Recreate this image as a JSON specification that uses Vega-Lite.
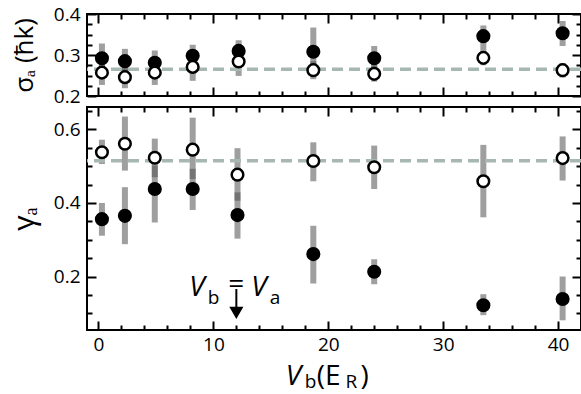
{
  "$schema": "https://vega.github.io/schema/vega-lite/v6.json",
  "padding": {"left": 8, "top": 4, "right": 2, "bottom": 0},
  "spacing": 11,
  "bounds": "flush",
  "datasets": {
    "sigma": [
      {"V": 0.3, "kind": "filled", "val": 0.292, "lo": 0.26, "hi": 0.328},
      {"V": 2.3, "kind": "filled", "val": 0.285, "lo": 0.255, "hi": 0.315},
      {"V": 4.9, "kind": "filled", "val": 0.281, "lo": 0.255, "hi": 0.311},
      {"V": 8.2, "kind": "filled", "val": 0.298, "lo": 0.27, "hi": 0.325},
      {"V": 12.2, "kind": "filled", "val": 0.31, "lo": 0.28, "hi": 0.336},
      {"V": 18.7, "kind": "filled", "val": 0.308, "lo": 0.27, "hi": 0.367},
      {"V": 24.0, "kind": "filled", "val": 0.292, "lo": 0.265, "hi": 0.322},
      {"V": 33.5, "kind": "filled", "val": 0.346, "lo": 0.31, "hi": 0.372},
      {"V": 40.4, "kind": "filled", "val": 0.353, "lo": 0.322, "hi": 0.383},
      {"V": 0.3, "kind": "open", "val": 0.257, "lo": 0.227, "hi": 0.285},
      {"V": 2.3, "kind": "open", "val": 0.246, "lo": 0.219, "hi": 0.27},
      {"V": 4.9, "kind": "open", "val": 0.257, "lo": 0.227, "hi": 0.285},
      {"V": 8.2, "kind": "open", "val": 0.271, "lo": 0.237, "hi": 0.3},
      {"V": 12.2, "kind": "open", "val": 0.284, "lo": 0.249, "hi": 0.31},
      {"V": 18.7, "kind": "open", "val": 0.263, "lo": 0.241, "hi": 0.285},
      {"V": 24.0, "kind": "open", "val": 0.254, "lo": 0.235, "hi": 0.275},
      {"V": 33.5, "kind": "open", "val": 0.293, "lo": 0.275, "hi": 0.31},
      {"V": 40.4, "kind": "open", "val": 0.263, "lo": 0.245, "hi": 0.28}
    ],
    "gamma": [
      {"V": 0.3, "kind": "filled", "val": 0.356, "lo": 0.311, "hi": 0.4},
      {"V": 2.3, "kind": "filled", "val": 0.365, "lo": 0.288, "hi": 0.443},
      {"V": 4.9, "kind": "filled", "val": 0.438, "lo": 0.347, "hi": 0.502},
      {"V": 8.2, "kind": "filled", "val": 0.438, "lo": 0.381, "hi": 0.493},
      {"V": 12.1, "kind": "filled", "val": 0.367, "lo": 0.303, "hi": 0.429},
      {"V": 18.7, "kind": "filled", "val": 0.261, "lo": 0.181, "hi": 0.338},
      {"V": 24.0, "kind": "filled", "val": 0.213, "lo": 0.179, "hi": 0.247},
      {"V": 33.5, "kind": "filled", "val": 0.122, "lo": 0.095, "hi": 0.152},
      {"V": 40.4, "kind": "filled", "val": 0.139, "lo": 0.081, "hi": 0.2},
      {"V": 0.3, "kind": "open", "val": 0.538, "lo": 0.506, "hi": 0.572},
      {"V": 2.3, "kind": "open", "val": 0.561, "lo": 0.488, "hi": 0.635},
      {"V": 4.9, "kind": "open", "val": 0.523, "lo": 0.47, "hi": 0.575},
      {"V": 8.2, "kind": "open", "val": 0.545, "lo": 0.465, "hi": 0.632},
      {"V": 12.1, "kind": "open", "val": 0.477, "lo": 0.406, "hi": 0.549},
      {"V": 18.7, "kind": "open", "val": 0.514, "lo": 0.459, "hi": 0.565},
      {"V": 24.0, "kind": "open", "val": 0.497, "lo": 0.438, "hi": 0.556},
      {"V": 33.5, "kind": "open", "val": 0.459, "lo": 0.361, "hi": 0.558},
      {"V": 40.4, "kind": "open", "val": 0.522, "lo": 0.461, "hi": 0.581}
    ],
    "ann": [
      {"part": "main", "t": "V", "V": 7.9, "y": 0.147},
      {"part": "main", "t": "V", "V": 13.3, "y": 0.147},
      {"part": "sub", "t": "b", "V": 9.5, "y": 0.125},
      {"part": "sub", "t": "a", "V": 14.9, "y": 0.125},
      {"part": "eq", "t": "=", "V": 12.0, "y": 0.176},
      {"part": "tmain", "t": "V", "V": 16.3, "y": -0.095},
      {"part": "tsub", "t": "b", "V": 17.95, "y": -0.104},
      {"part": "tnorm", "t": "(E", "V": 19.0, "y": -0.095},
      {"part": "tsub", "t": "R", "V": 21.5, "y": -0.104},
      {"part": "tnorm", "t": ")", "V": 22.8, "y": -0.095}
    ],
    "arrow": [
      {"V": 12.0, "top": 0.166, "bottom": 0.112, "tip": 0.101}
    ]
  },
  "vconcat": [
    {
      "width": 494,
      "height": 82,
      "resolve": {"axis": {"x": "independent", "y": "independent"}},
      "layer": [
        {
          "data": {"name": "sigma"},
          "mark": {"type": "rule", "strokeWidth": 6, "color": "#505050", "opacity": 0.55},
          "encoding": {
            "x": {"field": "V", "type": "quantitative", "scale": {"domain": [-1, 42], "nice": false, "zero": false},
              "axis": {"orient": "bottom", "labels": false, "title": null, "values": [0, 10, 20, 30, 40], "tickSize": -9}},
            "y": {"field": "lo", "type": "quantitative", "scale": {"domain": [0.2, 0.4], "nice": false, "zero": false},
              "axis": {"orient": "left", "title": "σₐ (ħk)", "titleFontSize": 26, "titlePadding": 16,
                "values": [0.2, 0.3, 0.4], "format": ".1f", "labelPadding": 16, "tickSize": -9}},
            "y2": {"field": "hi"}
          }
        },
        {
          "data": {"values": [{}]},
          "mark": {"type": "rule", "color": "#a7b7b1", "strokeWidth": 3.5, "strokeDash": [11, 6]},
          "encoding": {"y": {"datum": 0.265, "type": "quantitative", "scale": {"domain": [0.2, 0.4], "nice": false, "zero": false}, "axis": null}}
        },
        {
          "data": {"name": "sigma"},
          "mark": {"type": "point", "shape": "circle", "filled": true, "size": 135, "stroke": "black", "strokeWidth": 2.5, "opacity": 1},
          "encoding": {
            "x": {"field": "V", "type": "quantitative", "scale": {"domain": [-1, 42], "nice": false, "zero": false}, "axis": null},
            "y": {"field": "val", "type": "quantitative", "scale": {"domain": [0.2, 0.4], "nice": false, "zero": false}, "axis": null},
            "fill": {"field": "kind", "type": "nominal", "scale": {"domain": ["filled", "open"], "range": ["black", "white"]}, "legend": null}
          }
        },
        {
          "data": {"name": "sigma"},
          "mark": {"type": "point", "opacity": 0},
          "encoding": {
            "x": {"field": "V", "type": "quantitative", "scale": {"domain": [-1, 42], "nice": false, "zero": false},
              "axis": {"orient": "bottom", "labels": false, "title": null, "values": [2,4,6,8,12,14,16,18,22,24,26,28,32,34,36,38], "tickSize": -5}},
            "y": {"field": "val", "type": "quantitative", "scale": {"domain": [0.2, 0.4], "nice": false, "zero": false},
              "axis": {"orient": "left", "labels": false, "title": null, "values": [0.225, 0.25, 0.275, 0.325, 0.35, 0.375], "tickSize": -5}}
          }
        },
        {
          "data": {"name": "sigma"},
          "mark": {"type": "point", "opacity": 0},
          "encoding": {
            "x": {"field": "V", "type": "quantitative", "scale": {"domain": [-1, 42], "nice": false, "zero": false},
              "axis": {"orient": "top", "labels": false, "title": null, "values": [0, 10, 20, 30, 40], "tickSize": -9}},
            "y": {"field": "val", "type": "quantitative", "scale": {"domain": [0.2, 0.4], "nice": false, "zero": false},
              "axis": {"orient": "right", "labels": false, "title": null, "values": [0.2, 0.3, 0.4], "tickSize": -9}}
          }
        },
        {
          "data": {"name": "sigma"},
          "mark": {"type": "point", "opacity": 0},
          "encoding": {
            "x": {"field": "V", "type": "quantitative", "scale": {"domain": [-1, 42], "nice": false, "zero": false},
              "axis": {"orient": "top", "labels": false, "title": null, "values": [2,4,6,8,12,14,16,18,22,24,26,28,32,34,36,38], "tickSize": -5}},
            "y": {"field": "val", "type": "quantitative", "scale": {"domain": [0.2, 0.4], "nice": false, "zero": false},
              "axis": {"orient": "right", "labels": false, "title": null, "values": [0.225, 0.25, 0.275, 0.325, 0.35, 0.375], "tickSize": -5}}
          }
        }
      ]
    },
    {
      "width": 494,
      "height": 223,
      "resolve": {"axis": {"x": "independent", "y": "independent"}},
      "layer": [
        {
          "data": {"name": "gamma"},
          "mark": {"type": "rule", "strokeWidth": 6, "color": "#505050", "opacity": 0.55},
          "encoding": {
            "x": {"field": "V", "type": "quantitative", "scale": {"domain": [-1, 42], "nice": false, "zero": false},
              "axis": {"orient": "bottom", "title": null, "values": [0, 10, 20, 30, 40], "labelPadding": 14, "tickSize": -9}},
            "y": {"field": "lo", "type": "quantitative", "scale": {"domain": [0.0546, 0.661], "nice": false, "zero": false},
              "axis": {"orient": "left", "title": "γₐ", "titleFontSize": 30, "titlePadding": 14,
                "values": [0.2, 0.4, 0.6], "format": ".1f", "labelPadding": 16, "tickSize": -9}},
            "y2": {"field": "hi"}
          }
        },
        {
          "data": {"values": [{}]},
          "mark": {"type": "rule", "color": "#a7b7b1", "strokeWidth": 3.5, "strokeDash": [11, 6]},
          "encoding": {"y": {"datum": 0.515, "type": "quantitative", "scale": {"domain": [0.0546, 0.661], "nice": false, "zero": false}, "axis": null}}
        },
        {
          "data": {"name": "gamma"},
          "mark": {"type": "point", "shape": "circle", "filled": true, "size": 135, "stroke": "black", "strokeWidth": 2.5, "opacity": 1},
          "encoding": {
            "x": {"field": "V", "type": "quantitative", "scale": {"domain": [-1, 42], "nice": false, "zero": false}, "axis": null},
            "y": {"field": "val", "type": "quantitative", "scale": {"domain": [0.0546, 0.661], "nice": false, "zero": false}, "axis": null},
            "fill": {"field": "kind", "type": "nominal", "scale": {"domain": ["filled", "open"], "range": ["black", "white"]}, "legend": null}
          }
        },
        {
          "data": {"name": "arrow"},
          "mark": {"type": "rule", "strokeWidth": 2, "color": "black"},
          "encoding": {
            "x": {"field": "V", "type": "quantitative", "scale": {"domain": [-1, 42], "nice": false, "zero": false}, "axis": null},
            "y": {"field": "top", "type": "quantitative", "scale": {"domain": [0.0546, 0.661], "nice": false, "zero": false}, "axis": null},
            "y2": {"field": "bottom"}
          }
        },
        {
          "data": {"name": "arrow"},
          "mark": {"type": "point", "shape": "triangle-down", "filled": true, "size": 200, "color": "black", "opacity": 1},
          "encoding": {
            "x": {"field": "V", "type": "quantitative", "scale": {"domain": [-1, 42], "nice": false, "zero": false}, "axis": null},
            "y": {"field": "tip", "type": "quantitative", "scale": {"domain": [0.0546, 0.661], "nice": false, "zero": false}, "axis": null}
          }
        },
        {
          "data": {"name": "ann"},
          "transform": [{"filter": "datum.part === 'main'"}],
          "mark": {"type": "text", "fontSize": 28, "fontStyle": "italic", "align": "left", "baseline": "alphabetic", "color": "black", "clip": false},
          "encoding": {
            "x": {"field": "V", "type": "quantitative", "scale": {"domain": [-1, 42], "nice": false, "zero": false}, "axis": null},
            "y": {"field": "y", "type": "quantitative", "scale": {"domain": [0.0546, 0.661], "nice": false, "zero": false}, "axis": null},
            "text": {"field": "t"}
          }
        },
        {
          "data": {"name": "ann"},
          "transform": [{"filter": "datum.part === 'sub'"}],
          "mark": {"type": "text", "fontSize": 19, "align": "left", "baseline": "alphabetic", "color": "black", "clip": false},
          "encoding": {
            "x": {"field": "V", "type": "quantitative", "scale": {"domain": [-1, 42], "nice": false, "zero": false}, "axis": null},
            "y": {"field": "y", "type": "quantitative", "scale": {"domain": [0.0546, 0.661], "nice": false, "zero": false}, "axis": null},
            "text": {"field": "t"}
          }
        },
        {
          "data": {"name": "ann"},
          "transform": [{"filter": "datum.part === 'eq'"}],
          "mark": {"type": "text", "fontSize": 28, "align": "center", "baseline": "middle", "color": "black", "clip": false},
          "encoding": {
            "x": {"field": "V", "type": "quantitative", "scale": {"domain": [-1, 42], "nice": false, "zero": false}, "axis": null},
            "y": {"field": "y", "type": "quantitative", "scale": {"domain": [0.0546, 0.661], "nice": false, "zero": false}, "axis": null},
            "text": {"field": "t"}
          }
        },
        {
          "data": {"name": "ann"},
          "transform": [{"filter": "datum.part === 'tmain'"}],
          "mark": {"type": "text", "fontSize": 28, "fontStyle": "italic", "align": "left", "baseline": "alphabetic", "color": "black", "clip": false},
          "encoding": {
            "x": {"field": "V", "type": "quantitative", "scale": {"domain": [-1, 42], "nice": false, "zero": false}, "axis": null},
            "y": {"field": "y", "type": "quantitative", "scale": {"domain": [0.0546, 0.661], "nice": false, "zero": false}, "axis": null},
            "text": {"field": "t"}
          }
        },
        {
          "data": {"name": "ann"},
          "transform": [{"filter": "datum.part === 'tnorm'"}],
          "mark": {"type": "text", "fontSize": 28, "align": "left", "baseline": "alphabetic", "color": "black", "clip": false},
          "encoding": {
            "x": {"field": "V", "type": "quantitative", "scale": {"domain": [-1, 42], "nice": false, "zero": false}, "axis": null},
            "y": {"field": "y", "type": "quantitative", "scale": {"domain": [0.0546, 0.661], "nice": false, "zero": false}, "axis": null},
            "text": {"field": "t"}
          }
        },
        {
          "data": {"name": "ann"},
          "transform": [{"filter": "datum.part === 'tsub'"}],
          "mark": {"type": "text", "fontSize": 19, "align": "left", "baseline": "alphabetic", "color": "black", "clip": false},
          "encoding": {
            "x": {"field": "V", "type": "quantitative", "scale": {"domain": [-1, 42], "nice": false, "zero": false}, "axis": null},
            "y": {"field": "y", "type": "quantitative", "scale": {"domain": [0.0546, 0.661], "nice": false, "zero": false}, "axis": null},
            "text": {"field": "t"}
          }
        },
        {
          "data": {"name": "gamma"},
          "mark": {"type": "point", "opacity": 0},
          "encoding": {
            "x": {"field": "V", "type": "quantitative", "scale": {"domain": [-1, 42], "nice": false, "zero": false},
              "axis": {"orient": "bottom", "labels": false, "title": null, "values": [2,4,6,8,12,14,16,18,22,24,26,28,32,34,36,38], "tickSize": -5}},
            "y": {"field": "val", "type": "quantitative", "scale": {"domain": [0.0546, 0.661], "nice": false, "zero": false},
              "axis": {"orient": "left", "labels": false, "title": null, "values": [0.1, 0.15, 0.25, 0.3, 0.35, 0.45, 0.5, 0.55, 0.65], "tickSize": -5}}
          }
        },
        {
          "data": {"name": "gamma"},
          "mark": {"type": "point", "opacity": 0},
          "encoding": {
            "x": {"field": "V", "type": "quantitative", "scale": {"domain": [-1, 42], "nice": false, "zero": false},
              "axis": {"orient": "top", "labels": false, "title": null, "values": [0, 10, 20, 30, 40], "tickSize": -9}},
            "y": {"field": "val", "type": "quantitative", "scale": {"domain": [0.0546, 0.661], "nice": false, "zero": false},
              "axis": {"orient": "right", "labels": false, "title": null, "values": [0.2, 0.4, 0.6], "tickSize": -9}}
          }
        },
        {
          "data": {"name": "gamma"},
          "mark": {"type": "point", "opacity": 0},
          "encoding": {
            "x": {"field": "V", "type": "quantitative", "scale": {"domain": [-1, 42], "nice": false, "zero": false},
              "axis": {"orient": "top", "labels": false, "title": null, "values": [2,4,6,8,12,14,16,18,22,24,26,28,32,34,36,38], "tickSize": -5}},
            "y": {"field": "val", "type": "quantitative", "scale": {"domain": [0.0546, 0.661], "nice": false, "zero": false},
              "axis": {"orient": "right", "labels": false, "title": null, "values": [0.1, 0.15, 0.25, 0.3, 0.35, 0.45, 0.5, 0.55, 0.65], "tickSize": -5}}
          }
        }
      ]
    }
  ],
  "config": {
    "font": "Open Sans",
    "view": {"stroke": "black", "strokeWidth": 2},
    "axis": {
      "domain": false, "grid": false, "tickColor": "black", "tickWidth": 2,
      "labelFont": "Open Sans", "labelFontSize": 19, "labelColor": "black",
      "labelFlush": false, "labelOverlap": false,
      "titleColor": "black", "titleFont": "Open Sans", "titleFontWeight": "normal"
    }
  }
}
